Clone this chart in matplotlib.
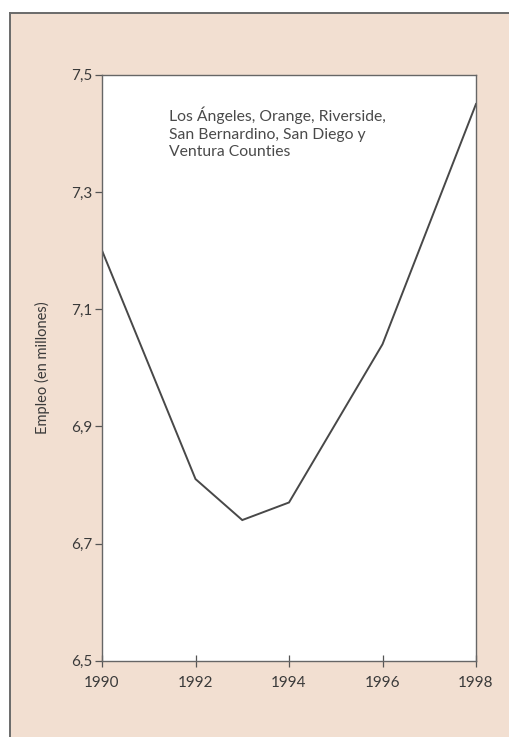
import matplotlib
matplotlib.use("Agg")
import matplotlib.pyplot as plt
from matplotlib.patches import Rectangle
from matplotlib.lines import Line2D

years = [1990, 1992, 1993, 1994, 1996, 1998]
employment = [7.20, 6.81, 6.74, 6.77, 7.04, 7.45]
yticks = [6.5, 6.7, 6.9, 7.1, 7.3, 7.5]
ytick_labels = ["6,5", "6,7", "6,9", "7,1", "7,3", "7,5"]
xticks = [1990, 1992, 1994, 1996, 1998]
xtick_labels = ["1990", "1992", "1994", "1996", "1998"]
note = "Los Ángeles, Orange, Riverside,\nSan Bernardino, San Diego y\nVentura Counties"
ylabel = "Empleo (en millones)"

W, H = 510, 737
fig = plt.figure(figsize=(W / 100, H / 100), dpi=100)
fig.patch.set_facecolor("white")

bg = "#F2DFD1"
fx0, fy0 = 10 / W, 1 - 13 / H
fig.add_artist(Rectangle((fx0, 0), 1 - fx0 + 0.01, fy0, transform=fig.transFigure,
                         facecolor=bg, edgecolor="none", zorder=0))
fig.add_artist(Line2D([fx0, fx0], [0, fy0], transform=fig.transFigure, color="#6a6a6a", lw=1.4))
fig.add_artist(Line2D([fx0, 1], [fy0, fy0], transform=fig.transFigure, color="#6a6a6a", lw=1.4))

left, right = 102 / W, 476 / W
top, bottom = 1 - 74.7 / H, 1 - 660.7 / H
ax = fig.add_axes([left, bottom, right - left, top - bottom])
ax.set_facecolor("white")

ax.plot(years, employment, color="#484848", lw=1.4, solid_joinstyle="miter")

ax.set_xlim(1990, 1998)
ax.set_ylim(6.5, 7.5)
ax.set_xticks(xticks)
ax.set_xticklabels(xtick_labels)
ax.set_yticks(yticks)
ax.set_yticklabels(ytick_labels)

font = "Lato"
for lbl in ax.get_xticklabels() + ax.get_yticklabels():
    lbl.set_fontfamily(font)
    lbl.set_fontsize(11)
    lbl.set_color("#3a3a3a")

ax.tick_params(axis="x", direction="inout", length=8, width=0.9, color="#555555", pad=7)
ax.tick_params(axis="y", direction="out", length=5, width=0.9, color="#555555", pad=2)

for s in ax.spines.values():
    s.set_color("#666666")
    s.set_linewidth(1.0)

ax.set_ylabel(ylabel, fontfamily=font, fontsize=10.5, color="#3a3a3a", labelpad=15)

ax.text(0.18, 0.945, note, transform=ax.transAxes, fontfamily=font, fontsize=11.3,
        color="#4a4a4a", va="top", ha="left", linespacing=1.3)

fig.savefig("out.png", dpi=100)
